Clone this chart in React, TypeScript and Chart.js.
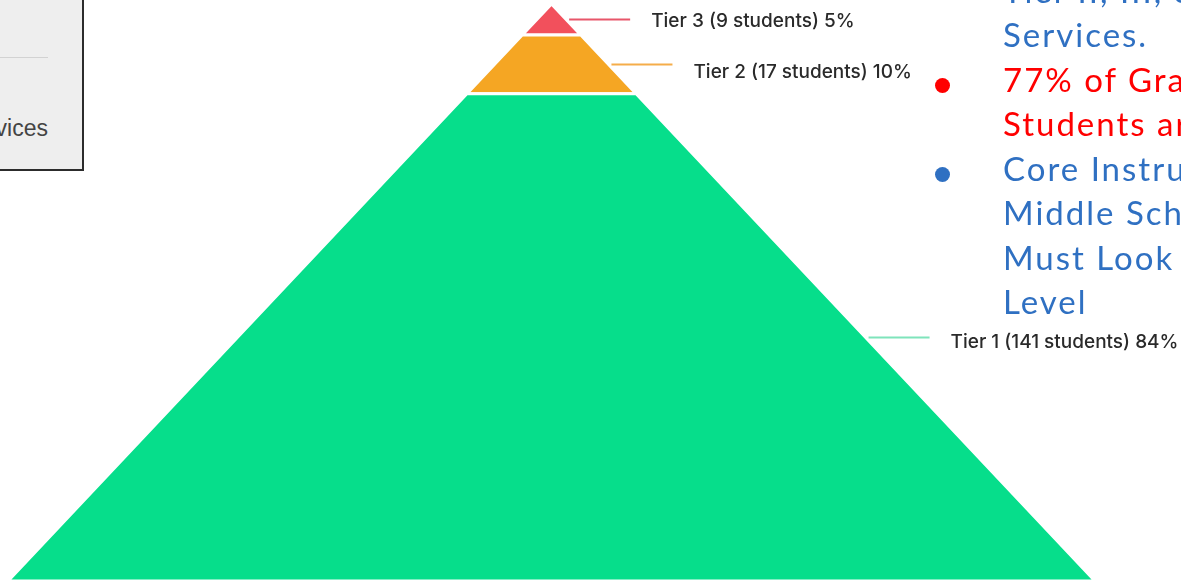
import React, { useEffect, useRef } from "react";
import { Chart, registerables } from "chart.js";

Chart.register(...registerables);

// ---- data ----
const tierNames = ["Tier 1", "Tier 2", "Tier 3"];
const studentCounts = [141, 17, 9];
const tierPercents = [84, 10, 5];
const tierColors = ["#06de8b", "#f5a623", "#f2505c"];
const connectorColors = ["#7fe4bb", "#f5ad4a", "#e8566a"];
const labelOffsets = [5, 8, 2];

const bulletLines = [
  { text: "Tier II, III, & SpEd", color: "#2f70c2" },
  { text: "Services.", color: "#2f70c2" },
  { text: "77% of Grade 8", color: "#ff0000", bullet: true },
  { text: "Students are", color: "#ff0000" },
  { text: "Core Instruction", color: "#2f70c2", bullet: true },
  { text: "Middle School", color: "#2f70c2" },
  { text: "Must Look at", color: "#2f70c2" },
  { text: "Level", color: "#2f70c2" },
];

const total = studentCounts.reduce((a, b) => a + b, 0);
const halfWidth = (h: number) => 1 - h / total;

function buildDatasets() {
  let start = 0;
  return studentCounts.map((n, i) => {
    const end = start + n;
    const pts = [
      { x: -halfWidth(start), y: start },
      { x: -halfWidth(end), y: end },
      { x: halfWidth(end), y: end },
      { x: halfWidth(start), y: start },
      { x: -halfWidth(start), y: start },
    ];
    start = end;
    return {
      label: tierNames[i],
      data: pts,
      showLine: true,
      fill: "shape",
      backgroundColor: tierColors[i],
      borderColor: "#ffffff",
      borderWidth: 3,
      pointRadius: 0,
      tension: 0,
    };
  });
}

const connectorPlugin = {
  id: "connectors",
  afterDatasetsDraw(chart: any) {
    const { ctx } = chart;
    const xs = chart.scales.x;
    const ys = chart.scales.y;
    let start = 0;
    studentCounts.forEach((n, i) => {
      const mid = start + n / 2;
      start += n;
      const xEdge = xs.getPixelForValue(halfWidth(mid));
      const y = ys.getPixelForValue(mid);
      ctx.save();
      ctx.strokeStyle = connectorColors[i];
      ctx.lineWidth = 2;
      ctx.beginPath();
      ctx.moveTo(xEdge + 3, y);
      ctx.lineTo(xEdge + 64, y);
      ctx.stroke();
      ctx.fillStyle = "#2a2a2a";
      ctx.font = "500 19px Inter";
      ctx.textBaseline = "middle";
      ctx.textAlign = "left";
      ctx.fillText(
        `${tierNames[i]} (${n} students) ${tierPercents[i]}%`,
        xEdge + 85,
        y + labelOffsets[i]
      );
      ctx.restore();
    });
  },
};

function PyramidChart() {
  const ref = useRef<HTMLCanvasElement>(null);
  useEffect(() => {
    if (!ref.current) return;
    const chart = new Chart(ref.current, {
      type: "scatter",
      data: { datasets: buildDatasets() as any },
      options: {
        animation: false,
        responsive: false,
        events: [],
        layout: { padding: { left: 8, right: 86, top: 4, bottom: 2 } },
        scales: {
          x: { type: "linear", min: -1, max: 1, display: false },
          y: { type: "linear", min: 0, max: total, display: false },
        },
        plugins: {
          legend: { display: false },
          tooltip: { enabled: false },
        },
      },
      plugins: [connectorPlugin],
    });
    return () => chart.destroy();
  }, []);
  return (
    <canvas
      ref={ref}
      width={1181}
      height={583}
      style={{ position: "absolute", left: 0, top: 0, width: 1181, height: 583 }}
    />
  );
}

export default function App() {
  return (
    <div
      style={{
        position: "fixed",
        left: 0,
        top: 0,
        width: 1181,
        height: 583,
        overflow: "hidden",
        background: "#ffffff",
      }}
    >
      {/* partial panel at top-left */}
      <div
        style={{
          position: "absolute",
          left: -20,
          top: -20,
          width: 100,
          height: 187,
          background: "#eeeeee",
          border: "2px solid #2c2c2c",
          boxSizing: "content-box",
        }}
      />
      <div
        style={{
          position: "absolute",
          left: 0,
          top: 57,
          width: 48,
          height: 1,
          background: "#d2d2d2",
        }}
      />
      <div
        style={{
          position: "absolute",
          left: -200,
          width: 248,
          top: 116,
          textAlign: "right",
          font: "23px 'Liberation Sans', Arial, sans-serif",
          lineHeight: "25px",
          color: "#444",
          whiteSpace: "nowrap",
        }}
      >
        Services
      </div>

      <PyramidChart />

      {/* bullet text */}
      {bulletLines.map((l, i) => (
        <React.Fragment key={i}>
          <div
            style={{
              position: "absolute",
              left: 1003,
              top: -32.5 + i * 44.5,
              font: "33px Lato, sans-serif",
              letterSpacing: "2px",
              lineHeight: "44.5px",
              color: l.color,
              whiteSpace: "nowrap",
            }}
          >
            {l.text}
          </div>
          {l.bullet && (
            <div
              style={{
                position: "absolute",
                left: 935,
                top: -32.5 + i * 44.5 + 21,
                width: 15,
                height: 15,
                borderRadius: "50%",
                background: l.color,
              }}
            />
          )}
        </React.Fragment>
      ))}
    </div>
  );
}
